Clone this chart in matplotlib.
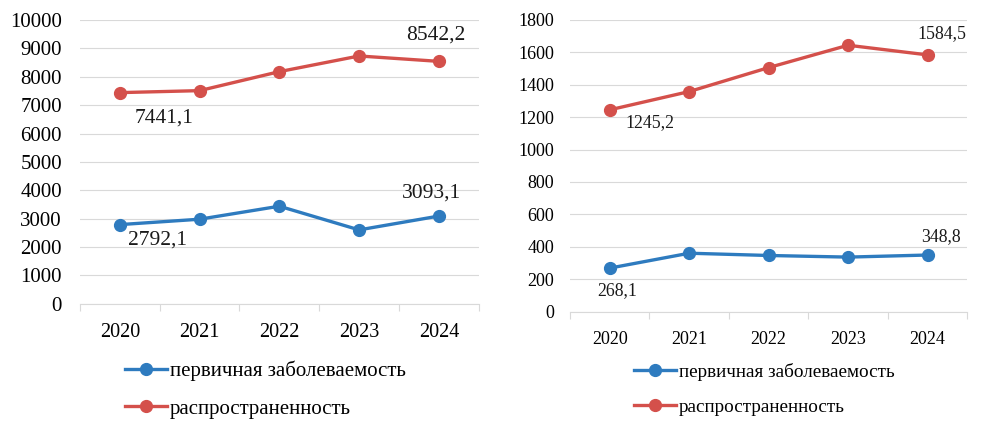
import matplotlib
matplotlib.use("Agg")
import matplotlib.pyplot as plt

# ── Data ──────────────────────────────────────────────────────────────────────
years = ["2020", "2021", "2022", "2023", "2024"]

left_primary = [2792.1, 2982, 3440, 2606, 3093.1]
left_prevalence = [7441.1, 7511, 8180, 8732, 8542.2]

right_primary = [268.1, 360, 346, 336, 348.8]
right_prevalence = [1245.2, 1358, 1506, 1644, 1584.5]

label_primary = "первичная заболеваемость"
label_prevalence = "распространенность"

C_BLUE = "#2e7bbf"
C_RED = "#d4504b"
C_GRID = "#d9d9d9"

plt.rcParams["font.family"] = ["Liberation Serif", "DejaVu Serif"]

fig = plt.figure(figsize=(9.87, 4.25), dpi=100)


def setup(ax, ymax, step, fs_y, fs_x, ypad, xpad):
    x = list(range(len(years)))
    ax.set_xlim(-0.5, len(years) - 0.5)
    ax.set_ylim(0, ymax)
    ax.set_yticks(range(0, ymax + 1, step))
    ax.set_xticks(x)
    ax.set_xticklabels(years)
    ax.set_xticks([i + 0.5 for i in range(-1, len(years))], minor=True)
    ax.tick_params(axis="x", which="major", length=0, labelsize=fs_x, pad=xpad)
    ax.tick_params(axis="x", which="minor", length=5, color=C_GRID, width=0.8)
    ax.tick_params(axis="y", length=0, labelsize=fs_y, pad=ypad)
    ax.grid(axis="y", color=C_GRID, linewidth=0.8, zorder=0)
    for side in ("top", "right", "left"):
        ax.spines[side].set_visible(False)
    ax.spines["bottom"].set_color(C_GRID)
    ax.spines["bottom"].set_linewidth(0.8)
    ax.set_axisbelow(True)
    return x


def draw(ax, x, primary, prevalence):
    ax.plot(x, primary, color=C_BLUE, lw=2.4, marker="o", ms=8.5,
            label=label_primary, zorder=3)
    ax.plot(x, prevalence, color=C_RED, lw=2.4, marker="o", ms=8.5,
            label=label_prevalence, zorder=3)


def note(ax, xi, val, dx, dy, fs):
    ax.annotate(f"{val:.1f}".replace(".", ","), (xi, val),
                xytext=(dx, dy), textcoords="offset pixels",
                ha="center", va="center", fontsize=fs, color="#1a1a1a")


# ── Left panel ────────────────────────────────────────────────────────────────
ax1 = fig.add_axes([0.081, 0.285, 0.404, 0.668])
x = setup(ax1, 10000, 1000, 15, 14.5, 13, 14)
draw(ax1, x, left_primary, left_prevalence)
note(ax1, 0, left_prevalence[0], 44, -25, 15.5)
note(ax1, 4, left_prevalence[4], -3, 26, 15.5)
note(ax1, 0, left_primary[0], 38, -15, 15.5)
note(ax1, 4, left_primary[4], -7, 23, 15.5)
ax1.legend(loc="upper left", bbox_to_anchor=(0.1265, 0.151),
           bbox_transform=fig.transFigure, frameon=False, fontsize=15,
           handlelength=2.0, handletextpad=0.15, labelspacing=0.85,
           borderpad=0, borderaxespad=0)

# ── Right panel ───────────────────────────────────────────────────────────────
ax2 = fig.add_axes([0.5775, 0.267, 0.4025, 0.686])
x = setup(ax2, 1800, 200, 13, 13, 11.5, 14)
draw(ax2, x, right_primary, right_prevalence)
note(ax2, 0, right_prevalence[0], 40, -13, 12.8)
note(ax2, 4, right_prevalence[4], 14, 21, 12.8)
note(ax2, 0, right_primary[0], 7, -22, 12.8)
note(ax2, 4, right_primary[4], 13, 18, 12.8)
ax2.legend(loc="upper left", bbox_to_anchor=(0.642, 0.146),
           bbox_transform=fig.transFigure, frameon=False, fontsize=13.8,
           handlelength=2.2, handletextpad=0.15, labelspacing=0.9,
           borderpad=0, borderaxespad=0)

fig.savefig("out.png", dpi=100, facecolor="white")
